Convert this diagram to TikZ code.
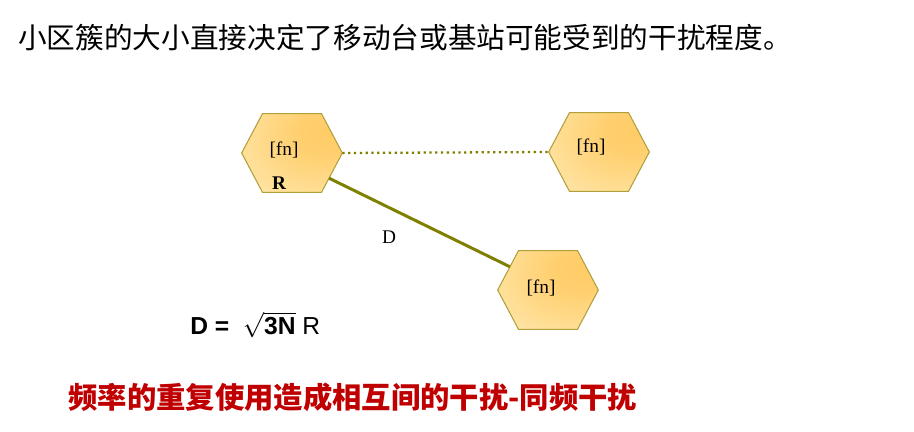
\documentclass[tikz,border=0pt]{standalone}
\usepackage{fontspec}
\setmainfont{Liberation Serif}
\setsansfont{Liberation Sans}
\newfontfamily\cjk{Noto Sans CJK SC}
\usepackage{xcolor}
\usepackage{tikz}
\usetikzlibrary{arrows.meta,positioning,calc}

\definecolor{hexedge}{RGB}{176,160,60}
\definecolor{hexhi}{RGB}{255,204,102}
\definecolor{hexlo}{RGB}{255,230,170}
\definecolor{linkolive}{RGB}{128,128,0}
\definecolor{warnred}{RGB}{192,0,0}
\pgfdeclareradialshading{hexglow}{\pgfpoint{18bp}{14bp}}{color(0bp)=(hexhi); color(14bp)=(hexhi!85!hexlo); color(45bp)=(hexlo); color(100bp)=(hexlo)}

\begin{document}
\begin{tikzpicture}[
cell/.style={minimum width=20mm, minimum height=15.6mm, inner sep=0pt},
hexcell/.style={shade, shading=hexglow, draw=hexedge, line width=0.6pt},
cellnum/.style={font=\fontsize{11}{13}\selectfont, inner sep=0pt},
link/.style={linkolive, line width=1.7pt},
]
\fill[white] (0,0) rectangle (18.28,-8.64);
\useasboundingbox (0,0) rectangle (18.28,-8.64);

\node[anchor=west, inner sep=0pt] (title) at (0.36,-0.76)
  {\cjk\fontsize{16.3}{18}\selectfont 小区簇的大小直接决定了移动台或基站可能受到的干扰程度。};

% three cells of the cluster
\node[cell] (h1) at (5.84,-3.06) {};
\node[cell] (h2) at (11.98,-3.04) {};
\node[cell] (h3) at (10.96,-5.80) {};
\foreach \h in {h1,h2,h3}
  \path[hexcell] (\h.west) coordinate (\h-w)
    -- ($(\h.north)+(-0.59,0)$) coordinate (\h-nw)
    -- ($(\h.north)+(0.59,0)$) coordinate (\h-ne)
    -- (\h.east) coordinate (\h-e)
    -- ($(\h.south)+(0.59,0)$) coordinate (\h-se)
    -- ($(\h.south)+(-0.59,0)$) coordinate (\h-sw)
    -- cycle;

\node[cellnum] (f1) at ($(h1)+(-0.16,0.06)$) {[fn]};
\node[cellnum, font=\fontsize{11}{13}\selectfont\bfseries] (r1) at ($(h1)+(-0.26,-0.60)$) {R};
\node[cellnum] (f2) at ($(h2)+(-0.16,0.10)$) {[fn]};
\node[cellnum] (f3) at ($(h3)+(-0.14,0.04)$) {[fn]};

% reuse distance
\draw[link, line width=1.3pt, dotted] (h1-e) -- (h2-w);
\draw[link] ($(h1-e)!0.64!(h1-se)$) coordinate (d0)
  -- ($(h3-w)!0.59!(h3-nw)$) coordinate (d1);
\node[cellnum] (dlbl) at (7.78,-4.74) {D};

\node[anchor=west, inner sep=0pt, font=\sffamily\bfseries\fontsize{14}{16}\selectfont] (eq) at (3.8,-6.5)
  {D =\ \ $\sqrt{\hbox{\sffamily\bfseries\fontsize{14}{16}\selectfont 3N}}$\ {\mdseries R}};

\node[anchor=west, inner sep=0pt, text=warnred] (note) at (1.36,-7.94)
  {\cjk\bfseries\fontsize{16.7}{18}\selectfont 频率的重复使用造成相互间的干扰-同频干扰};
\end{tikzpicture}
\end{document}
